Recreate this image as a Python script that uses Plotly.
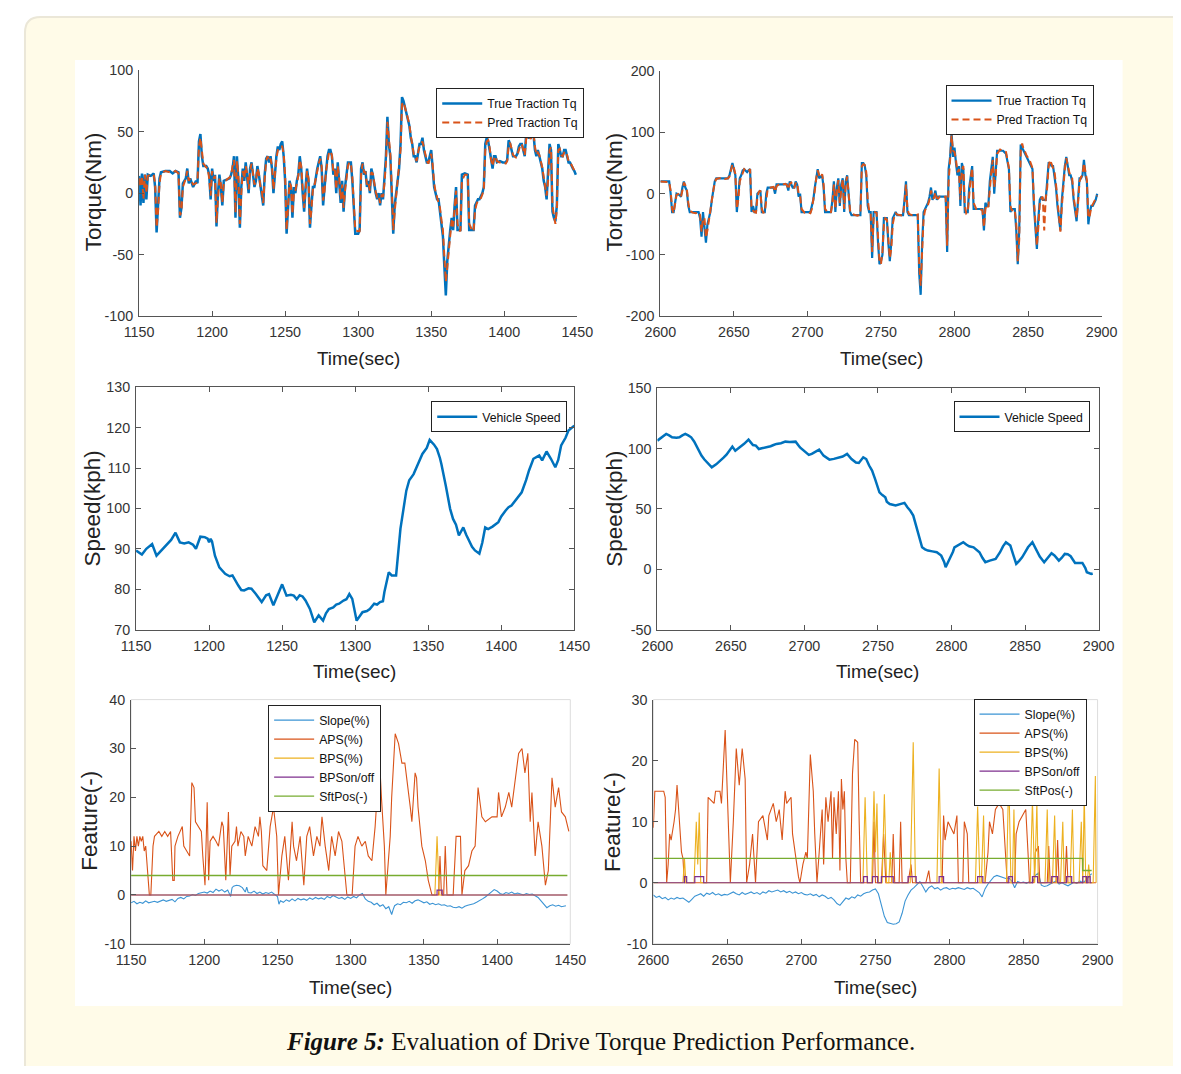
import plotly.graph_objects as go

# Reference canvas, figure size that fits inside the page, and the measured
# page->photo mapping (photo = B + S * figure_px) used to place things.
W, H = 1181, 1074
FW, FH = 1165, 1058
SX, SY = 0.972, 0.984
BX, BY = 24.0, 16.0
FS = 1 / 0.978  # font compensation for the photo scaling

# ---------------- DATA ----------------
# Top-left: traction torque 1150-1450 s
tl_time = [1150,1151,1152,1153,1154,1155,1156,1158,1160,1161,1162,1163,1164,1165,1168,1171,1173,1175,1177,1178,1179,1180,1182,1183,1184,1185,1187,1189,1190,1191,1192,1193,1194,1196,1197,1198,1199,1200,
           1201,1202,1203,1204,1205,1206,1207,1208,1210,1212,1213,1214,1215,1216,1217,1218,1219,1220,1221,1222,1223,1224,1225,1226,1227,1228,1229,1230,1231,1232,1233,1234,1235,1236,1237,1238,1239,1240,1241,1242,1243,1244,1245,1246,1247,1248,1249,1250,
           1251,1252,1253,1254,1255,1256,1257,1258,1259,1260,1261,1262,1263,1264,1265,1266,1267,1268,1269,1270,1271,1272,1273,1274,1275,1276,1277,1278,1279,1280,1281,1282,1283,1284,1285,1286,1287,1288,1289,1290,1291,1292,1293,1294,1295,1296,1297,1298,1300,1301,
           1302,1303,1304,1305,1306,1307,1308,1309,1310,1311,1312,1313,1314,1315,1316,1317,1318,1319,1320,1321,1322,1323,1324,1325,1326,1327,1328,1329,1330,1331,1332,1333,1334,1335,1336,1337,1338,1339,1340,1341,1342,1343,1344,1345,1346,1347,1348,1349,1350,
           1351,1352,1353,1354,1355,1356,1357,1358,1359,1360,1361,1362,1363,1364,1365,1366,1367,1368,1369,1370,1371,1373,1375,1376,1378,1379,1380,1381,1382,1383,1384,1385,1386,1387,1388,1389,1390,1391,1392,1393,1394,1395,1397,1399,1401,1402,1403,1404,1405,1406,
           1407,1408,1409,1410,1411,1412,1413,1414,1415,1416,1417,1418,1419,1420,1421,1422,1423,1424,1425,1426,1427,1428,1429,1430,1431,1432,1433,1434,1435,1436,1437,1438,1439,1440,1441,1442,1443,1444,1445,1446,1447,1448,1449]
tl_true = [14,-10,16,-8,15,-5,15,14,16,5,-32,-10,12,17,18,18,16,18,17,-20,-12,8,12,20,8,12,5,10,8,42,48,30,22,22,20,15,-5,20,
           10,15,-27,0,15,5,-10,10,11,12,15,20,30,-20,30,10,-28,5,20,10,25,15,0,20,25,15,5,10,22,15,5,0,-10,15,28,30,25,30,20,0,20,30,38,35,40,42,30,10,
           -33,-5,10,5,-20,5,0,10,15,30,20,0,-15,5,20,10,-28,-10,5,5,15,20,25,30,20,-10,5,20,30,35,35,30,15,20,0,25,10,-8,10,-15,5,15,25,25,25,10,-10,-33,-33,-30,
           20,25,15,18,5,10,0,20,15,5,0,-5,0,-10,0,-5,10,30,62,40,30,0,-33,-10,0,10,20,40,78,75,70,65,60,55,45,40,30,30,25,35,40,40,45,35,30,25,25,30,35,
           20,5,0,-5,-5,-15,-25,-35,-60,-83,-55,-40,-30,-20,-30,-10,5,-30,-30,-30,15,16,15,-30,-30,-30,-10,-8,-5,-5,-3,0,5,40,45,42,35,25,20,30,30,25,26,25,25,27,43,40,35,30,
           30,30,32,38,40,40,35,30,48,50,45,45,50,48,35,30,35,30,25,20,10,5,-5,15,40,35,-15,-20,-23,-10,40,35,30,30,35,35,30,25,25,22,20,18,15]
tl_pred = [12,5,14,-5,15,0,14,15,15,8,-28,-15,8,16,18,17,17,18,16,-18,-15,5,12,18,10,12,7,8,10,38,45,35,24,21,20,12,-2,18,
           12,14,-24,-5,12,8,-8,8,11,13,14,22,27,-16,26,14,-25,0,18,12,22,16,3,18,24,16,7,10,20,16,6,2,-8,12,26,30,26,28,22,3,17,28,35,36,38,38,32,14,
           -30,-10,8,6,-17,0,2,8,14,27,22,4,-12,2,18,12,-25,-13,3,6,13,18,24,28,22,-6,2,18,28,33,34,31,17,19,3,22,12,-5,7,-12,2,13,22,25,24,13,-6,-30,-31,-31,
           15,24,17,17,7,9,2,17,16,6,1,-3,-2,-8,-2,-3,8,25,58,45,32,5,-30,-15,-3,8,17,35,72,74,70,66,60,56,47,40,32,29,26,33,38,40,42,37,30,26,24,28,32,
           23,8,1,-3,-6,-12,-22,-30,-52,-72,-60,-45,-32,-22,-27,-14,2,-25,-30,-31,10,15,15,-25,-30,-31,-14,-9,-6,-5,-4,-1,3,35,42,43,37,27,22,28,30,26,25,25,24,26,38,41,36,31,
           30,29,31,35,39,40,36,31,44,46,47,44,47,49,38,31,33,31,26,21,13,6,-2,10,35,37,-10,-18,-25,-13,35,36,31,30,33,34,31,26,25,23,21,19,16]

# Top-right: traction torque 2600-2900 s
tr_time = [2600,2602,2604,2606,2607,2608,2609,2610,2611,2613,2614,2615,2616,2617,2618,2619,2620,2622,2624,2626,2627,2628,2629,2630,2631,2632,2633,2634,2635,2636,2637,2638,2640,2642,2644,2646,2647,2648,2649,2650,
           2651,2652,2653,2654,2655,2656,2657,2658,2659,2660,2661,2662,2663,2664,2665,2666,2667,2668,2669,2670,2671,2672,2673,2675,2677,2678,2679,2681,2683,2685,2686,2687,2688,2689,2690,2691,2692,2693,2694,2695,2696,2698,2700,
           2702,2703,2704,2705,2706,2707,2708,2709,2710,2711,2712,2714,2716,2717,2718,2719,2720,2721,2722,2723,2724,2725,2726,2727,2728,2729,2730,2732,2734,2736,2737,2738,2739,2740,2741,2742,2743,2744,2745,2746,2747,2748,2749,2750,
           2751,2752,2753,2754,2755,2756,2757,2758,2759,2760,2761,2763,2765,2766,2767,2768,2769,2771,2773,2775,2776,2777,2778,2779,2780,2781,2782,2783,2784,2785,2786,2787,2788,2789,2790,2792,2794,2795,2796,2797,2798,2799,2800,
           2801,2802,2803,2804,2805,2806,2807,2808,2809,2810,2811,2812,2813,2815,2817,2819,2820,2821,2822,2823,2824,2825,2826,2827,2828,2829,2831,2833,2835,2836,2837,2838,2839,2840,2841,2842,2843,2844,2845,2846,2847,2848,2849,2851,2853,
           2854,2855,2856,2857,2858,2859,2860,2861,2862,2863,2864,2865,2866,2867,2868,2869,2870,2871,2872,2873,2874,2875,2876,2877,2878,2879,2880,2881,2882,2883,2884,2885,2886,2887,2888,2889,2890,2891,2892,2893,2894,2895,2896,2897]
tr_true = [20,20,20,20,0,-30,-30,-10,0,-2,-5,10,20,10,5,-20,-30,-30,-30,-30,-40,-70,-30,-50,-80,-50,-40,-30,-10,10,20,25,25,25,25,25,30,40,50,40,
           30,-30,0,25,30,38,40,38,35,38,40,-30,-20,-30,-30,0,2,5,-30,-30,-30,0,10,10,10,0,15,15,15,15,15,5,20,15,10,10,20,15,-5,0,-30,-30,-30,
           -30,-20,-10,10,30,40,25,28,30,10,-30,-30,-30,-10,20,-30,10,25,-20,15,25,-30,20,30,-10,-30,-35,-35,-35,-35,50,50,45,30,-20,-30,-30,-105,-30,-30,-30,-80,-115,-110,
           -100,-40,-40,-40,-80,-110,-80,-40,-35,-30,-35,-35,-35,-10,20,-30,-35,-35,-35,-35,-130,-165,-80,-30,-25,-20,-15,-5,10,-10,-5,5,-10,-5,-5,-5,-5,-95,40,60,100,60,75,
           50,30,45,-20,50,40,-30,-30,-30,10,30,45,-25,-25,-25,-25,-60,-15,-20,-20,20,40,60,0,40,70,70,70,65,50,40,-30,-25,-25,-25,-60,-115,-60,80,75,70,65,60,50,40,
           -20,-50,-90,-40,-10,-5,-10,-10,-10,20,50,50,45,45,30,10,-20,-40,-60,-10,20,45,60,40,30,30,20,-10,-30,-45,-10,25,25,30,55,30,20,-50,-30,-20,-20,-15,-10,0]
tr_pred = [20,20,20,19,5,-25,-32,-15,-2,0,-5,5,18,14,8,-15,-28,-31,-32,-30,-35,-62,-40,-40,-72,-60,-42,-32,-15,5,18,24,25,26,24,25,28,38,48,42,
           32,-25,-10,20,28,35,40,38,36,37,40,-25,-28,-30,-31,-5,3,5,-25,-31,-30,-5,8,10,11,3,12,16,15,16,14,7,16,18,12,9,17,18,0,-3,-25,-31,-30,
           -32,-25,-12,5,25,38,30,26,32,15,-25,-31,-30,-15,15,-25,5,22,-15,10,24,-25,15,28,-5,-28,-33,-35,-36,-34,45,48,47,35,-10,-28,-32,-95,-40,-30,-31,-70,-110,-115,
           -95,-50,-40,-42,-70,-105,-90,-50,-38,-32,-34,-35,-36,-15,15,-25,-33,-35,-36,-34,-115,-150,-100,-40,-27,-22,-18,-10,5,-5,-8,2,-7,-8,-5,-6,-5,-85,20,55,95,70,68,
           55,35,40,-10,40,45,-20,-32,-30,5,25,42,-15,-26,-25,-27,-55,-25,-18,-22,10,35,55,10,30,65,72,70,68,55,42,-20,-28,-25,-27,-50,-110,-75,70,82,72,68,62,55,42,
           -10,-40,-85,-55,-15,-8,-5,-60,-8,10,45,55,48,44,35,15,-10,-35,-62,-20,15,40,58,45,35,28,25,-5,-25,-40,-15,20,27,30,50,35,22,-40,-35,-22,-18,-12,-8,-3]

# Middle: vehicle speed
ml_time = [1150,1154,1157,1161,1164,1167,1170,1174,1177,1180,1183,1186,1189,1191,1194,1197,1199,1200,1201,1202,1204,1207,1211,1214,1216,1218,1220,1222,1224,1227,1229,1232,1236,1239,1241,1244,1247,1250,1253,1256,1258,1260,1262,1264,1266,1269,1272,1275,1278,1280,
           1282,1285,1287,1289,1292,1294,1296,1298,1301,1303,1305,1308,1310,1313,1315,1317,1319,1320,1323,1325,1328,1331,1333,1335,1337,1340,1343,1346,1349,1351,1354,1356,1358,1359,1362,1365,1367,1369,1371,1374,1376,1378,1380,1382,1385,1387,1389,1391,1394,1398,
           1400,1403,1405,1407,1410,1414,1417,1419,1422,1424,1426,1428,1431,1434,1437,1439,1441,1444,1446,1450]
ml_speed = [89.6,88.6,90,91.2,88.3,89.5,90.8,92.2,94,91.6,91.3,91.6,91,90,93,92.9,92.5,91.6,92.5,91.8,88.3,85.4,83.8,83.2,83.4,82,80.9,79.8,79.7,80.2,80.1,78.8,76.8,78.5,78.8,76,78.5,81.2,78.4,78.6,78.4,77.5,78.5,78.2,77.2,75.1,71.8,73.5,72.2,74,
            75.1,75.5,76.2,76.4,77.2,77.5,78.8,77.6,72.2,73.4,74.3,74.6,75.1,76.4,76.2,76.8,77,79.3,84.2,83.4,83.4,95,100,104.4,107,108.5,111,113.5,115,117,115.8,114.7,112.5,111,105.7,99.9,97.4,96,93.3,95.3,93.5,92,90.5,89.6,88.8,91.5,95.3,94.9,95.5,96.6,
            98,99.5,100.3,100.7,102,104,107,109.4,112.3,112.6,113.1,111.9,114.1,112.3,110.2,112,115.6,117.5,119.3,120.5]

mr_time = [2600,2603,2606,2608,2610,2613,2615,2617,2619,2621,2623,2625,2627,2630,2632,2634,2637,2640,2643,2645,2647,2649,2651,2653,2656,2659,2662,2664,2665,2667,2669,2671,2674,2677,2679,2681,2684,2687,2690,2694,2697,2700,2703,2705,2708,2710,2713,2715,2717,2720,
           2723,2726,2729,2732,2735,2737,2740,2742,2744,2746,2748,2750,2751,2753,2755,2756,2758,2762,2766,2768,2770,2772,2774,2776,2778,2780,2782,2784,2787,2790,2793,2795,2796,2797,2799,2801,2802,2805,2808,2810,2812,2815,2817,2819,2821,2823,2826,2830,2833,2835,
           2837,2840,2842,2844,2846,2848,2850,2852,2855,2858,2860,2863,2865,2868,2870,2873,2875,2877,2879,2881,2884,2887,2889,2891,2892,2895,2896]
mr_speed = [106.6,109.5,112.2,111,109.4,109,109.4,111,112.2,111,109.4,106,101,94.2,91,88.7,84.5,87,90,92.5,95,98,101.7,98.3,101,104,107.5,105,103,102.5,99.7,100.3,101,102,103,103.9,104.5,105.8,105.5,105.8,101,98,94.8,95.6,97.5,99.2,94.2,92.5,90.9,91.5,
            92.8,93.5,95.6,91.4,88.5,88.1,92.8,91.4,86,81.8,74.9,66,63.8,61.5,59.7,56,54.1,52.8,54.1,55,51.4,48.5,44.5,35,27.9,18.2,16.5,15.5,14.8,14.1,11.3,6,1.7,4,8.6,14.5,18.2,20.5,22.4,20.5,19.1,18.2,16.5,14.1,9.5,5.8,7.2,8.6,14.1,19,
            22.4,19.6,12,4.4,7,9.9,14,18.2,22.4,15.5,10.5,5.8,8.5,13.3,11.5,7.2,9.5,12.7,12.4,10.8,5.2,5.5,5.2,1,-2.5,-3.9,-3.5]

# Bottom-left: features 1150-1450 s
bl_slope_t = [1150,1152,1154,1156,1158,1160,1162,1164,1166,1168,1170,1172,1174,1176,1178,1180,1182,1184,1186,1188,1190,1192,1194,1196,1198,1200,1202,1204,1206,1208,1210,1212,1214,1216,1218,1219,1220,1222,1224,1226,1228,1229,1230,1232,1234,1236,1238,1240,1242,1244,
              1246,1248,1250,1251,1252,1254,1256,1258,1260,1262,1264,1266,1268,1270,1272,1274,1276,1278,1280,1282,1284,1286,1288,1290,1292,1294,1296,1298,1300,1302,1304,1306,1308,1310,1312,1314,1316,1318,1320,1322,1324,1326,1327,1328,1329,1330,1332,1334,1336,1338,
              1340,1342,1344,1346,1348,1350,1352,1354,1356,1358,1360,1362,1364,1366,1368,1370,1372,1374,1376,1378,1380,1382,1384,1386,1388,1390,1392,1394,1396,1398,1400,1402,1404,1406,1408,1410,1412,1414,1416,1418,1420,1422,1424,1426,1428,1430,1432,1434,1436,1438,
              1440,1442,1444,1446,1447]
bl_slope = [-1.6,-1.3,-1.8,-1.5,-1.7,-1.2,-1.6,-1.4,-1.3,-1.5,-1.2,-1.0,-1.3,-1.1,-0.9,-1.4,-0.7,-0.5,-0.8,-0.3,-0.2,0.1,-0.1,0.3,0.5,0.6,0.4,0.8,0.5,1.2,0.8,1.1,0.6,1.0,-0.3,1.5,1.8,2.0,1.9,1.5,0.6,1.6,0.5,0.4,0.8,0.3,0.6,0.2,0.5,0.3,
            0.6,0.2,-0.3,-1.9,-1.2,-1.5,-1.0,-1.3,-0.8,-1.2,-0.7,-1.0,-0.8,-1.1,-0.6,-0.9,-0.5,-0.8,-0.6,-0.9,-0.3,-0.6,-0.1,-0.4,-0.7,-0.5,-0.9,-0.4,-0.7,-0.3,-0.6,0.0,0.3,-0.8,-1.3,-1.5,-2.0,-1.7,-2.3,-2.0,-2.8,-2.4,-3.2,-4.0,-3.0,-2.2,-1.8,-2.0,-1.5,-1.6,
            -1.3,-1.7,-1.2,-1.0,-1.3,-1.6,-1.4,-1.9,-1.7,-2.0,-1.8,-2.1,-2.0,-2.3,-2.2,-2.5,-2.6,-2.4,-2.7,-2.3,-2.1,-2.0,-1.8,-1.5,-1.2,-0.8,-0.4,0.2,0.6,1.1,0.8,0.3,0.1,0.5,0.3,0.6,0.2,0.4,0.2,0.0,0.3,0.1,0.2,-0.1,-0.5,-1.2,-1.9,-2.6,-2.2,-2.0,
            -2.3,-2.1,-2.4,-2.3,-2.2]

bl_aps_t = [1150,1151,1152,1153,1154,1155,1156,1157,1158,1159,1160,1161,1162.5,1163.5,1164,1165,1166,1169,1171,1173,1175,1177,1178.5,1179.5,1180,1182,1185,1186,1188,1190,1191.5,1193,1194,1196,1198,1199,1200.5,1202,1203,1204,1206,1208,1209.7,1212,1213,1214.7,1216.5,1217.6,1218.8,1221,1222,1223,1225,1227,
            1228,1230,1232.5,1234.7,1237,1238,1239,1240,1242.7,1245,1247.3,1248.4,1249.5,1250.7,1253,1255,1257.5,1260,1261,1263,1265.5,1268,1270,1272,1274.6,1276.9,1279,1280.4,1282.6,1285,1287,1289.4,1291.7,1294,1296,1297.4,1301,1303,1305,1307.6,1310,1312,1314.5,1316.7,
            1318,1319.5,1321,1323,1324,1325.8,1327,1328,1330.4,1332.7,1335,1337,1339.5,1340.7,1341.8,1344,1345,1346,1348.6,1351,1353,1355.5,1360,1361,1362,1363.5,1364.6,1365.8,1369,1370,1372,1375,1376,1378,1380.5,1382.8,1385,1386,1387,1389.6,1392,1396.5,1400,1401,
            1403,1405.6,1408,1410,1412.4,1414.7,1417,1419,1421,1422.6,1423.8,1426,1428,1430.6,1433,1435,1437.5,1439.7,1442,1444,1446.6,1449]
bl_aps = [11,5,12,9,12,10,12,11,12,9,10,6,0,0,5,10,12,13,12,13,12,13,3,3,10,12,14,10,9,8,23,22,15,14,13,8,2,19,3,11,12,11,10,15,14,3,17,4,10,11,14,10,13,12,
          8,12,10,14,12,16,13,6,5,14,18,15,12,0,8,12,3,15,10,7,12,2,12,14,8,12,10,16,10,5,12,8,13,11,5,0,0,10,12,10,11,8,7,14,
          20,29,20,10,0,8,12,20,33,31,27,27,20,18,15,25,24,18,10,7,3,0,0,8,0,0,10,0,0,0,12,12,0,5,6,9,10,16,22,16,15,16,16,21,
          16,18,21,18,24,29,30,25,29,15,21,8,15,10,2,5,24,18,22,17,16,13]

bl_bps_t = [1150,1357.5,1359,1360.5,1448]
bl_bps = [0,0,12,0,0]
bl_onoff_t = [1150,1359,1362.5,1448]
bl_onoff = [0,1,0,0]
bl_sft_t = [1150,1448]
bl_sft = [4,4]

# Bottom-right: features 2600-2900 s
br_slope_t = [2600,2602,2604,2606,2608,2610,2612,2614,2616,2618,2620,2622,2624,2626,2628,2630,2632,2634,2636,2638,2640,2642,2644,2646,2648,2650,2652,2654,2656,2658,2660,2662,2664,2666,2668,2670,2672,2674,2676,2678,2680,2682,2684,2686,2688,2690,2692,2694,2696,2698,
              2700,2702,2704,2706,2708,2710,2712,2714,2716,2718,2720,2722,2724,2726,2728,2730,2732,2734,2736,2738,2740,2742,2744,2746,2748,2750,2752,2754,2756,2758,2760,2762,2764,2766,2768,2770,2772,2774,2776,2778,2780,2782,2784,2786,2788,2790,2792,2794,2796,2798,
              2800,2802,2804,2806,2808,2810,2812,2814,2816,2818,2820,2822,2824,2826,2828,2830,2832,2834,2836,2838,2840,2842,2844,2846,2848,2850,2852,2854,2856,2858,2860,2862,2864,2866,2868,2870,2872,2874,2876,2878,2880,2882,2884,2886,2888,2890,2892,2894,2896]
br_slope = [-2.0,-2.4,-2.2,-2.6,-2.4,-2.8,-2.5,-2.7,-2.4,-2.6,-2.5,-2.9,-3.2,-2.7,-2.2,-2.0,-1.8,-2.2,-1.7,-1.9,-1.6,-2.0,-1.8,-2.1,-1.9,-2.0,-1.7,-1.5,-1.8,-2.0,-1.6,-1.9,-1.7,-1.5,-1.8,-1.6,-1.9,-1.5,-1.7,-1.3,-1.5,-1.4,-1.2,-1.5,-1.3,-1.6,-1.4,-1.7,-1.5,-1.8,
            -1.6,-1.9,-2.0,-1.8,-2.1,-1.9,-2.3,-2.0,-2.2,-2.6,-2.4,-2.8,-3.4,-3.7,-3.0,-2.5,-2.7,-2.3,-2.5,-2.0,-2.2,-1.8,-1.6,-1.5,-1.2,-1.0,-1.8,-3.5,-5.5,-6.5,-6.6,-6.8,-6.7,-6.4,-5.0,-3.0,-2.0,-1.2,-0.8,-0.3,0.2,-0.6,-1.5,-0.8,-0.5,-1.0,-0.8,-1.2,-0.9,-0.8,
            -1.1,-0.9,-1.0,-0.8,-1.0,-1.1,-0.8,-1.0,-0.9,-1.3,-1.6,-2.3,-1.0,-0.2,0.5,1.0,1.2,1.0,0.9,0.7,0.8,0.3,-0.8,0.2,0.0,0.1,-0.1,0.2,0.0,1.2,1.6,-0.4,-0.6,-0.5,-0.2,0.1,0.3,-0.2,0.0,-0.3,-0.5,-0.2,0.1,-0.1,0.3,0.0,0.4,1.0,1.5]

br_aps_t = [2600,2601,2607,2608,2609,2610,2611,2612,2614,2615,2616,2617,2618,2619,2620,2621,2636,2637,2641,2642,2645,2646,2648.5,2650,2652,2654,2656,2658,2660,2662,2663,2665,2667,2669,2671,2674,2677,2678,2681,2683,2685,2687,2689,2690,2693,2694,2697,2698,2699,
            2701,2703,2704,2706,2707,2708,2709,2710.5,2712,2714,2715,2716.5,2718,2720,2721,2722,2723.5,2725,2726,2727,2728,2729,2730,2731,2733,2734.5,2736,2738,2739,2740,2741,2748,2749,2750,2754,2755.5,2757,2761,2762,2763,2766,2767,2768,2772,2774,2775,2784,2786,2787,
            2795,2796,2797,2799,2801,2803,2805,2806,2809,2810,2812,2813,2824,2826,2827,2829,2831,2833.5,2836,2837.5,2839,2844,2845,2847,2849,2851.5,2853,2854,2857,2858,2860,2861,2866,2867,2868,2872,2873,2874,2878,2879,2880,2899]
br_aps = [9,15,15,14,0,3,8,7,10,12,16,12,8,5,4,0,0,14,13,15,15,13,25,15,0,10,22,16,22,17,0,3,8,0,10,11,7,11,13,10,12,7,15,13,14,8,2,1,0,
          3,5,4,21,18,15,8,0,5,12,3,14,10,15,4,14,8,15,2,17,12,15,4,0,0,18,23.5,23,10,0,0,0,10,0,0,8,0,0,8,0,0,10,0,0,3,0,0,2,0,
          0,11,7,10,9,8,11,0,0,10,8,0,0,5,10,8,12,13,12,5,0,0,8,10,11,12,5,0,0,5,6,0,0,6,0,0,7,0,0,6,0,0]

br_bps_t = [2600,2620,2621,2622,2627.5,2629,2630,2631,2632,2741.5,2743,2744.5,2747.5,2749,2750,2751,2752,2754.5,2756,2757.5,2759,2760,2761,2773.5,2775.5,2777,2791.5,2793,2794.5,2817.5,2819,2820.5,2821.5,2823,2824,
            2838.5,2840,2841.5,2842.5,2843.5,2844.5,2854.5,2856,2857.5,2859,2860,2864.5,2866,2867,2869.5,2871,2872,2875,2876.5,2877.5,2881.5,2883,2884,2887.5,2889,2890,2891,2892,2893,2894,2895,2897,2898.5,2899]
br_bps = [0,0,4,0,0,10,3,11.5,0,0,14,0,0,15,5,13,0,0,14.5,0,0,5,0,0,23,0,0,18.7,0,0,12.5,0,0,11,0,
          0,18,0,0,12,0,0,13.5,0,13,0,0,12,0,0,11,0,0,10,0,0,12,0,0,10,0,14.5,0,0,3,0,0,17.5,0]

br_onoff_t = [2600,2621,2622.5,2628,2634,2742,2744.5,2748,2751.5,2754,2762,2772,2777.5,2793,2796,2819,2822.5,2840,2842.5,2856,2859.5,2869,2873,2879,2882.5,2890,2892.5,2893.5,2895,2896]
br_onoff = [0,1,0,1,0,1,0,1,0,1,0,1,0,1,0,1,0,1,0,1,0,1,0,1,0,1,0,1,0,0]
br_sft_t = [2600,2890,2896]
br_sft = [4,2,2]

# Axis ticks
x_left_ticks = [1150,1200,1250,1300,1350,1400,1450]
x_right_ticks = [2600,2650,2700,2750,2800,2850,2900]
tl_yticks = [-100,-50,0,50,100]
tr_yticks = [-200,-100,0,100,200]
ml_yticks = [70,80,90,100,110,120,130]
mr_yticks = [-50,0,50,100,150]
bl_yticks = [-10,0,10,20,30,40]
br_yticks = [-10,0,10,20,30]

# ---------------- STYLE ----------------
BLUE = '#0072BD'
ORANGE = '#D95319'
YELLOW = '#EDB120'
PURPLE = '#7E2F8E'
GREEN = '#77AC30'
SLOPE = '#3b94d4'
AX = '#555555'
FONT = 'Liberation Sans, Arial, sans-serif'


def xp(p):
    """reference-image pixel x -> paper fraction"""
    return ((p - BX) / SX) / FW


def yp(p):
    """reference-image pixel y -> paper fraction"""
    return 1 - ((p - BY) / SY) / FH


def fs(s):
    return round(s * FS, 2)


fig = go.Figure()

fig.add_trace(go.Scatter(x=tl_time, y=tl_true, mode='lines', name='True Traction Tq',
                         line=dict(color=BLUE, width=2.5), xaxis='x', yaxis='y', legend='legend'))
fig.add_trace(go.Scatter(x=tl_time, y=tl_pred, mode='lines', name='Pred Traction Tq',
                         line=dict(color=ORANGE, width=2, dash='7px,4px'), xaxis='x', yaxis='y', legend='legend'))
fig.add_trace(go.Scatter(x=tr_time, y=tr_true, mode='lines', name='True Traction Tq',
                         line=dict(color=BLUE, width=2.2), xaxis='x2', yaxis='y2', legend='legend2'))
fig.add_trace(go.Scatter(x=tr_time, y=tr_pred, mode='lines', name='Pred Traction Tq',
                         line=dict(color=ORANGE, width=2, dash='7px,4px'), xaxis='x2', yaxis='y2', legend='legend2'))
fig.add_trace(go.Scatter(x=ml_time, y=ml_speed, mode='lines', name='Vehicle Speed',
                         line=dict(color=BLUE, width=2.5), xaxis='x3', yaxis='y3', legend='legend3'))
fig.add_trace(go.Scatter(x=mr_time, y=mr_speed, mode='lines', name='Vehicle Speed',
                         line=dict(color=BLUE, width=2.5), xaxis='x4', yaxis='y4', legend='legend4'))
for (xs, ys, nm, col, shp, lw) in [(bl_slope_t, bl_slope, 'Slope(%)', SLOPE, 'linear', 1.1),
                                   (bl_aps_t, bl_aps, 'APS(%)', ORANGE, 'linear', 1.1),
                                   (bl_bps_t, bl_bps, 'BPS(%)', YELLOW, 'linear', 1.1),
                                   (bl_onoff_t, bl_onoff, 'BPSon/off', PURPLE, 'hv', 1.2),
                                   (bl_sft_t, bl_sft, 'SftPos(-)', GREEN, 'hv', 1.4)]:
    fig.add_trace(go.Scatter(x=xs, y=ys, mode='lines', name=nm, line=dict(color=col, width=lw, shape=shp),
                             xaxis='x5', yaxis='y5', legend='legend5'))
for (xs, ys, nm, col, shp, lw) in [(br_slope_t, br_slope, 'Slope(%)', SLOPE, 'linear', 1.1),
                                   (br_aps_t, br_aps, 'APS(%)', ORANGE, 'linear', 1.1),
                                   (br_bps_t, br_bps, 'BPS(%)', YELLOW, 'linear', 1.1),
                                   (br_onoff_t, br_onoff, 'BPSon/off', PURPLE, 'hv', 1.2),
                                   (br_sft_t, br_sft, 'SftPos(-)', GREEN, 'hv', 1.4)]:
    fig.add_trace(go.Scatter(x=xs, y=ys, mode='lines', name=nm, line=dict(color=col, width=lw, shape=shp),
                             xaxis='x6', yaxis='y6', legend='legend6'))


def axis(domain, rng, ticks, anchor, mirror, is_x):
    d = dict(domain=domain, range=rng, tickvals=ticks, ticktext=[str(t) for t in ticks],
             anchor=anchor, showline=True, linecolor=AX, linewidth=1, mirror=mirror,
             ticks='inside', ticklen=5, tickcolor=AX, showgrid=False, zeroline=False,
             tickfont=dict(family=FONT, size=fs(14), color='#333333'), fixedrange=True)
    d['ticklabelstandoff'] = 3 if is_x else 2
    return d


# plot boxes in reference pixels: (left, right, top, bottom)
boxes = {
    1: (139, 577, 70, 316),
    2: (660, 1101, 71, 316),
    3: (136, 574, 387, 629),
    4: (657, 1098, 388, 629),
    5: (131, 570, 699, 943),
    6: (653, 1097, 699, 943),
}
xranges = {1: [1150, 1450], 2: [2600, 2900], 3: [1150, 1450], 4: [2600, 2900], 5: [1150, 1450], 6: [2600, 2900]}
yranges = {1: [-100, 100], 2: [-200, 200], 3: [70, 130], 4: [-50, 150], 5: [-10, 40], 6: [-10, 30]}
xticks = {1: x_left_ticks, 2: x_right_ticks, 3: x_left_ticks, 4: x_right_ticks, 5: x_left_ticks, 6: x_right_ticks}
yticks = {1: tl_yticks, 2: tr_yticks, 3: ml_yticks, 4: mr_yticks, 5: bl_yticks, 6: br_yticks}
mirrors = {1: False, 2: False, 3: 'ticks', 4: 'ticks', 5: False, 6: False}

layout = {}
for i, (l, r, t, b) in boxes.items():
    xk = 'xaxis' if i == 1 else f'xaxis{i}'
    yk = 'yaxis' if i == 1 else f'yaxis{i}'
    xa = 'x' if i == 1 else f'x{i}'
    ya = 'y' if i == 1 else f'y{i}'
    layout[xk] = axis([xp(l), xp(r)], xranges[i], xticks[i], ya, mirrors[i], True)
    layout[yk] = axis([yp(b), yp(t)], yranges[i], yticks[i], xa, mirrors[i], False)


def legend(left, top):
    return dict(x=xp(left), y=yp(top), xanchor='left', yanchor='top', bgcolor='white',
                bordercolor='#222222', borderwidth=1, font=dict(family=FONT, size=fs(12), color='#111111'),
                tracegroupgap=0, itemwidth=40, itemclick=False, itemdoubleclick=False)


layout['legend'] = legend(436, 88)
layout['legend2'] = legend(945, 85)
layout['legend3'] = legend(431, 401)
layout['legend4'] = legend(953, 401)
layout['legend5'] = legend(268, 704)
layout['legend6'] = legend(973, 698)

ann = []
xtitle_pos = [(358, 358), (881, 358), (354, 671), (877, 671), (350, 987), (875, 987)]
for (x, y) in xtitle_pos:
    ann.append(dict(text='Time(sec)', x=xp(x), y=yp(y), xref='paper', yref='paper', showarrow=False,
                    xanchor='center', yanchor='middle', font=dict(family=FONT, size=fs(18.5), color='#222222')))
ytitles = [('Torque(Nm)', 93, 192), ('Torque(Nm)', 614, 192), ('Speed(kph)', 92, 508), ('Speed(kph)', 614, 508),
           ('Feature(-)', 90, 820), ('Feature(-)', 612, 821)]
for (txt, x, y) in ytitles:
    ann.append(dict(text=txt, x=xp(x), y=yp(y), xref='paper', yref='paper', showarrow=False, textangle=-90,
                    xanchor='center', yanchor='middle', font=dict(family=FONT, size=fs(22), color='#222222')))
ann.append(dict(text='<b><i>Figure 5:</i></b> Evaluation of Drive Torque Prediction Performance.',
                x=xp(600), y=yp(1041), xref='paper', yref='paper', showarrow=False, xanchor='center', yanchor='middle',
                font=dict(family='Liberation Serif, Times New Roman, serif', size=25, color='#111111')))

# cream card (border at the very top-left of the figure) and the white figure panel
cx0, cy0, rad = 1.0 / FW, 1 - 1.0 / FH, 16.0
card_path = (f"M {cx0},-0.05 L {cx0},{cy0 - rad / FH} Q {cx0},{cy0} {cx0 + rad / FW},{cy0} "
             f"L 1.05,{cy0} L 1.05,-0.05 Z")
shapes = [
    dict(type='path', path=card_path, xref='paper', yref='paper', fillcolor='#fffbe8',
         line=dict(color='#ebe7d8', width=2), layer='below'),
    dict(type='rect', x0=xp(75), x1=xp(1122), y0=yp(1005), y1=yp(60), xref='paper', yref='paper',
         fillcolor='white', line=dict(width=0), layer='below'),
    dict(type='rect', x0=0, x1=1, y0=0, y1=1, xref='x5 domain', yref='y5 domain',
         line=dict(color='#dddddd', width=1), layer='below'),
    dict(type='rect', x0=0, x1=1, y0=0, y1=1, xref='x6 domain', yref='y6 domain',
         line=dict(color='#dddddd', width=1), layer='below'),
]

fig.update_layout(**layout)
fig.update_layout(width=FW, height=FH, autosize=False, margin=dict(l=0, r=0, t=0, b=0),
                  paper_bgcolor='white', plot_bgcolor='rgba(0,0,0,0)', showlegend=True,
                  annotations=ann, shapes=shapes, font=dict(family=FONT))

fig.write_html('out.html')
